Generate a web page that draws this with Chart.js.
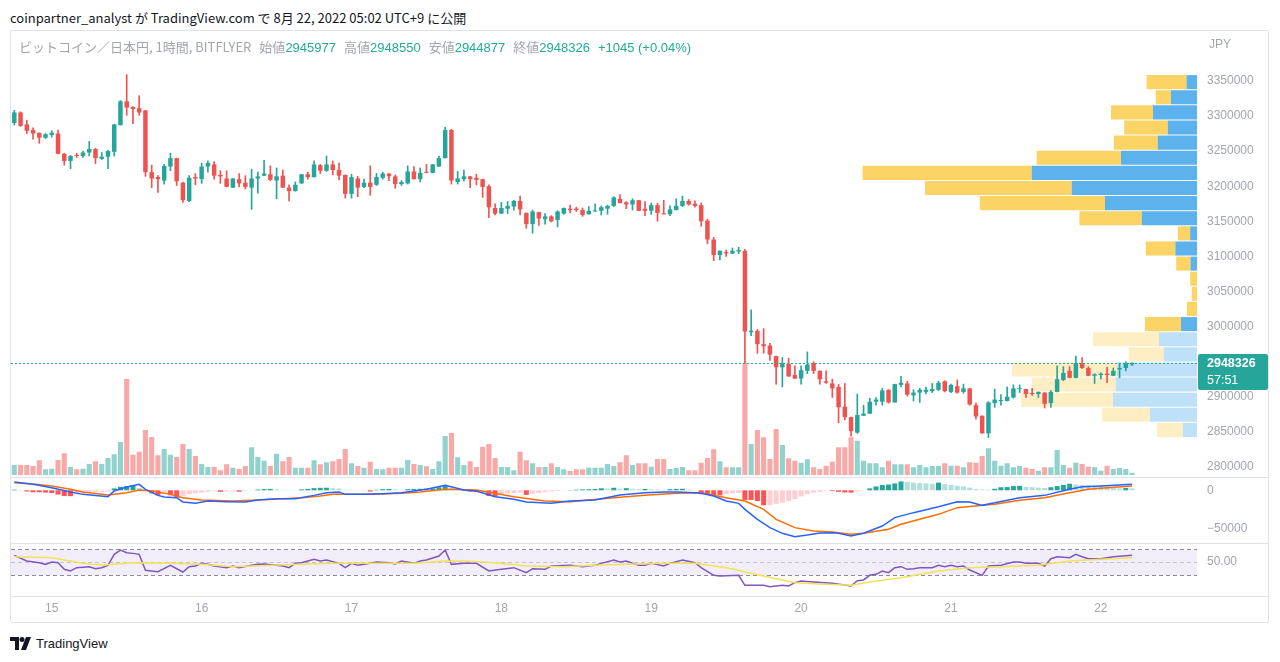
<!DOCTYPE html>
<html lang="ja">
<head>
<meta charset="utf-8">
<title>ビットコイン／日本円, 1時間, BITFLYER</title>
<script src="https://cdn.jsdelivr.net/npm/chart.js@4.4.1/dist/chart.umd.min.js"></script>
<style>
  body { margin: 0; width: 1280px; height: 662px; background: #fff; position: relative; overflow: hidden;
         font-family: "Liberation Sans", "Noto Sans CJK JP", sans-serif; }
  .abs { position: absolute; }
  #publisher { left: 10px; top: 8px; font-size: 13px; color: #131722; font-family: "Noto Sans CJK JP", sans-serif; white-space: nowrap; }
  #frame { left: 10px; top: 30px; width: 1257px; height: 591px; border: 1px solid #e0e3eb; border-radius: 2px; }
  #legend { left: 19px; top: 37px; font-size: 13px; color: #a3a6af; white-space: nowrap; font-family: "Noto Sans CJK JP", sans-serif; }
  #legend .v { color: #22ab94; font-family: "Liberation Sans", sans-serif; }
  #legend .g { margin-left: 8px; }
  #jpy { left: 1209px; top: 37px; font-size: 12px; color: #a3a6af; }
  .sep { left: 11px; width: 1257px; height: 1px; background: #e0e3eb; }
  canvas { position: absolute; }
  #brand { left: 10px; top: 636px; font-size: 13px; color: #131722; display: flex; align-items: center; gap: 4px; }
</style>
</head>
<body>
<div id="publisher" class="abs">coinpartner_analyst が TradingView.com で 8月 22, 2022 05:02 UTC+9 に公開</div>
<div id="frame" class="abs"></div>
<canvas id="profile" width="1258" height="447" style="left:11px;top:30px"></canvas>
<canvas id="main" width="1258" height="447" style="left:11px;top:30px"></canvas>
<div class="abs sep" style="top:477px"></div>
<canvas id="macd" width="1258" height="66" style="left:11px;top:477px"></canvas>
<div class="abs sep" style="top:543px"></div>
<canvas id="rsi" width="1258" height="78" style="left:11px;top:543px"></canvas>
<div class="abs sep" style="top:596px"></div>
<div id="legend" class="abs">ビットコイン／日本円, 1時間, BITFLYER<span class="g">始値</span><span class="v">2945977</span><span class="g">高値</span><span class="v">2948550</span><span class="g">安値</span><span class="v">2944877</span><span class="g">終値</span><span class="v">2948326</span><span class="v g">+1045 (+0.04%)</span></div>
<div id="jpy" class="abs">JPY</div>
<div id="brand" class="abs">
  <svg width="22" height="13" viewBox="0 0 22 13"><path d="M0 0h9v13H5V4H0z" fill="#131722"/><circle cx="12" cy="2.5" r="2.5" fill="#131722"/><path d="M16 0h5l-5 13h-5z" fill="#131722"/></svg>
  <span>TradingView</span>
</div>

<script>
// 1時間足 2022-08-14 18:00 〜 2022-08-22 05:00 (180本)
const opens = [
  3290000,3305000,3288000,3280000,3276000,3269000,3273000,3275000,3246000,3236000,
  3244000,3243000,3248000,3253000,3239000,3242000,3249000,3287000,3321000,3313000,
  3311000,3308000,3220000,3213000,3208000,3228000,3240000,3205000,3179000,3213000,
  3210000,3228000,3231000,3216000,3211000,3198000,3210000,3205000,3198000,3211000,
  3215000,3217000,3208000,3215000,3198000,3193000,3204000,3217000,3213000,3230000,
  3222000,3231000,3223000,3216000,3189000,3211000,3199000,3205000,3202000,3212000,
  3218000,3214000,3203000,3204000,3221000,3210000,3220000,3219000,3228000,3240000,
  3280000,3206000,3210000,3214000,3212000,3210000,3200000,3169000,3161000,3168000,
  3171000,3179000,3162000,3146000,3163000,3153000,3157000,3152000,3161000,3168000,
  3168000,3166000,3160000,3164000,3165000,3168000,3172000,3182000,3177000,3174000,
  3180000,3168000,3165000,3173000,3161000,3160000,3166000,3172000,3179000,3175000,
  3173000,3151000,3124000,3102000,3106000,3104000,3107000,3108000,2992000,2994000,
  2975000,2973000,2958000,2942000,2947000,2931000,2926000,2937000,2948000,2937000,
  2922000,2919000,2914000,2886000,2871000,2849000,2873000,2876000,2893000,2893000,
  2910000,2892000,2917000,2919000,2902000,2906000,2907000,2908000,2910000,2922000,
  2907000,2915000,2907000,2912000,2888000,2873000,2848000,2891000,2894000,2894000,
  2899000,2911000,2911000,2905000,2904000,2906000,2891000,2907000,2924000,2937000,
  2927000,2947000,2941000,2930000,2931000,2933000,2930000,2939000,2941000,2945977
];
const highs = [
  3308000,3306000,3294000,3283000,3276000,3275000,3279000,3280000,3247000,3244000,
  3247000,3250000,3264000,3254000,3248000,3251000,3288000,3322000,3359000,3313000,
  3329000,3308000,3230000,3215000,3231000,3247000,3240000,3206000,3215000,3218000,
  3233000,3236000,3235000,3222000,3222000,3211000,3218000,3215000,3224000,3220000,
  3237000,3229000,3226000,3223000,3202000,3206000,3217000,3220000,3236000,3231000,
  3243000,3236000,3233000,3216000,3217000,3214000,3210000,3229000,3218000,3220000,
  3218000,3216000,3208000,3229000,3228000,3226000,3231000,3231000,3243000,3284000,
  3281000,3221000,3223000,3214000,3217000,3210000,3202000,3175000,3177000,3178000,
  3180000,3186000,3162000,3166000,3163000,3161000,3158000,3165000,3169000,3173000,
  3170000,3169000,3171000,3175000,3172000,3173000,3185000,3188000,3178000,3182000,
  3180000,3178000,3176000,3176000,3180000,3172000,3182000,3186000,3181000,3179000,
  3176000,3153000,3127000,3108000,3109000,3112000,3113000,3110000,3024000,2996000,
  2997000,2976000,2958000,2956000,2955000,2944000,2944000,2964000,2950000,2937000,
  2937000,2925000,2918000,2919000,2871000,2904000,2888000,2898000,2899000,2912000,
  2910000,2918000,2929000,2922000,2910000,2912000,2914000,2919000,2922000,2923000,
  2918000,2924000,2918000,2912000,2891000,2873000,2893000,2911000,2903000,2914000,
  2917000,2917000,2911000,2912000,2907000,2906000,2909000,2944000,2943000,2943000,
  2958000,2956000,2943000,2933000,2934000,2942000,2941000,2948000,2950000,2948550
];
const lows = [
  3287000,3285000,3275000,3267000,3261000,3268000,3270000,3246000,3230000,3225000,
  3241000,3241000,3243000,3232000,3238000,3225000,3243000,3287000,3301000,3289000,
  3301000,3214000,3198000,3191000,3203000,3222000,3201000,3177000,3178000,3202000,
  3204000,3220000,3210000,3204000,3199000,3198000,3199000,3196000,3167000,3190000,
  3215000,3208000,3182000,3198000,3179000,3193000,3204000,3210000,3213000,3218000,
  3221000,3216000,3209000,3183000,3183000,3185000,3198000,3187000,3201000,3210000,
  3208000,3197000,3201000,3203000,3210000,3206000,3219000,3219000,3228000,3240000,
  3203000,3203000,3207000,3198000,3202000,3184000,3155000,3159000,3161000,3161000,
  3166000,3159000,3140000,3133000,3144000,3146000,3149000,3142000,3160000,3162000,
  3164000,3157000,3160000,3164000,3159000,3160000,3171000,3176000,3168000,3166000,
  3165000,3158000,3160000,3150000,3160000,3158000,3166000,3171000,3173000,3170000,
  3143000,3118000,3094000,3095000,3100000,3104000,3104000,2948000,2987000,2962000,
  2962000,2952000,2918000,2914000,2929000,2926000,2918000,2933000,2933000,2918000,
  2919000,2899000,2863000,2867000,2844000,2848000,2873000,2876000,2888000,2888000,
  2891000,2892000,2914000,2901000,2894000,2892000,2904000,2906000,2909000,2907000,
  2906000,2905000,2905000,2888000,2868000,2848000,2842000,2885000,2888000,2894000,
  2898000,2906000,2899000,2902000,2899000,2884000,2885000,2907000,2923000,2927000,
  2927000,2940000,2930000,2919000,2925000,2920000,2930000,2927000,2937000,2944877
];
const closes = [
  3305000,3286000,3279000,3275000,3269000,3274000,3276000,3246000,3236000,3243000,
  3243000,3248000,3253000,3240000,3242000,3250000,3288000,3321000,3312000,3310000,
  3305000,3220000,3211000,3210000,3229000,3240000,3207000,3180000,3212000,3211000,
  3228000,3233000,3215000,3214000,3199000,3211000,3204000,3199000,3211000,3214000,
  3218000,3209000,3214000,3198000,3193000,3202000,3217000,3213000,3231000,3222000,
  3231000,3223000,3215000,3189000,3213000,3198000,3205000,3199000,3213000,3218000,
  3214000,3203000,3206000,3221000,3210000,3219000,3219000,3231000,3240000,3280000,
  3208000,3211000,3214000,3210000,3209000,3199000,3170000,3161000,3169000,3172000,
  3179000,3167000,3146000,3164000,3154000,3157000,3150000,3164000,3169000,3166000,
  3166000,3159000,3165000,3165000,3170000,3172000,3184000,3176000,3174000,3180000,
  3165000,3165000,3173000,3162000,3160000,3167000,3172000,3179000,3174000,3172000,
  3150000,3124000,3102000,3108000,3104000,3108000,3109000,2993000,2994000,2975000,
  2972000,2960000,2942000,2948000,2929000,2926000,2938000,2946000,2937000,2925000,
  2920000,2912000,2885000,2871000,2851000,2874000,2876000,2893000,2896000,2909000,
  2892000,2918000,2920000,2903000,2906000,2910000,2910000,2911000,2920000,2908000,
  2917000,2906000,2912000,2889000,2872000,2848000,2892000,2896000,2895000,2900000,
  2912000,2912000,2904000,2904000,2907000,2890000,2907000,2925000,2934000,2927000,
  2948000,2941000,2930000,2932000,2933000,2931000,2937000,2941000,2947281,2948326
];
const volumes = [
  40,40,40,36,59,23,25,60,87,32,
  23,25,44,55,44,68,83,132,384,81,
  93,180,152,79,104,81,72,124,104,76,
  44,32,32,19,43,29,24,36,111,72,
  57,36,85,55,72,29,29,29,59,43,
  51,55,64,104,47,36,29,53,24,23,
  29,29,29,60,44,40,35,24,55,156,
  168,71,40,55,32,113,124,68,32,32,
  19,93,59,47,32,32,47,32,23,16,
  23,23,29,29,29,44,36,51,79,40,
  47,47,33,64,64,24,28,32,19,19,
  49,68,103,55,31,31,31,448,124,180,
  151,64,184,120,67,57,49,63,31,24,
  37,53,111,111,151,137,57,47,47,31,
  57,43,43,43,31,40,31,36,36,47,
  37,37,31,51,49,76,107,57,37,47,
  31,36,29,24,17,31,31,100,40,29,
  49,44,33,31,17,37,24,28,24,9
];

// 出来高プロファイル (24行)
const vpPrice = [
  3348229,3326687,3305145,3283603,3262061,3240519,3218977,3197435,3175893,3154351,3132809,3111267,
  3089725,3068183,3046641,3025099,3003557,2982015,2960473,2938931,2917389,2895847,2874305,2852763
];
const vpUp   = [26,65,110,73,98,190,413,313,230,138,17,54,16,0,0,0,40,95,83,200,203,210,118,35];
const vpDown = [100,38,105,109,110,211,423,367,313,156,31,74,36,17,13,25,90,165,88,263,210,230,119,65];

// MACD (12, 26, 9)
const macdHist = [
  800,500,-1500,-2500,-2500,-3000,-3500,-5500,-7500,-7600,
  -5000,-3500,-2500,-2000,-1900,-1500,2500,4500,5500,6500,
  3000,-700,-4000,-6500,-3000,-6500,-9500,-7500,-5000,-4000,
  -3000,-2000,-1000,-2000,-1500,-1400,-1800,-600,-300,1000,
  1600,1800,1200,500,400,300,1200,1800,2800,3200,
  3300,2800,2300,700,500,300,-200,-1500,600,1500,
  1800,1200,800,1500,1800,2000,2200,2500,4000,5500,
  3000,1000,-800,-1800,-2500,-2000,-7500,-8000,-5000,-4000,
  -3500,-3000,-6000,-4500,-3500,-2500,-1500,-800,-300,400,
  800,1200,1400,1600,2600,2200,3300,2000,2800,2000,
  1500,1700,1200,1000,800,1500,1800,2000,1000,300,
  -5000,-6000,-6500,-6600,-5200,-4000,-3500,-12500,-12600,-14000,
  -19500,-19300,-17500,-16000,-14000,-11500,-8000,-5000,-3000,-2000,
  -800,-1000,-2000,-2800,-3000,-1500,-500,2500,5000,7000,
  7500,9000,11500,11000,10000,9500,9000,8500,10000,8000,
  7000,6000,5000,3500,1500,1000,800,2000,4000,4200,
  5500,5800,4500,4000,3500,3000,4000,5500,7000,8500,
  7500,7000,6500,6000,5500,5000,4500,2500,3000,2500
];
const macdIdx = [0,3,6,9,11,15,16,18,20,21,23,24,26,27,29,31,34,37,39,42,45,48,50,52,53,56,59,62,64,66,69,72,74,77,80,82,86,89,93,97,101,104,106,109,110,112,114,116,117,119,121,123,125,127,129,131,132,134,136,139,141,144,148,151,153,155,157,161,165,169,171,174,179];
const macdVal = [10800,7800,3400,-2200,-5300,-8300,-900,4300,7800,1300,-6600,-8700,-9600,-15200,-17000,-14000,-14800,-15200,-12600,-10900,-10900,-6600,-3100,-2200,-5300,-5300,-4400,-3100,-900,1300,6500,400,-900,-8300,-11800,-15200,-17000,-13900,-12600,-6100,-3100,-2200,-2200,-3100,-3900,-7400,-13900,-17000,-24800,-37800,-48600,-56000,-60400,-58200,-55500,-55200,-56000,-59500,-56000,-46500,-35600,-29100,-21300,-14800,-15200,-19600,-16100,-9600,-6600,1300,4700,5600,7800];
const signalIdx = [0,3,6,9,11,15,18,20,22,25,27,30,35,39,43,46,49,51,54,57,62,65,69,74,80,85,89,96,101,106,110,114,117,120,122,125,128,131,134,136,140,142,145,148,151,155,157,161,165,169,172,175,179];
const signalVal = [9900,8200,5600,1300,-2200,-6100,-3100,400,-900,-5300,-9600,-12600,-13900,-12600,-10900,-9600,-7400,-5300,-5300,-5300,-3900,-2200,1300,400,-8300,-13900,-14800,-9600,-6600,-3900,-3100,-9600,-13900,-24800,-37800,-48600,-53000,-54300,-57300,-56000,-50800,-44300,-37800,-31300,-22600,-19600,-18300,-13100,-9600,-3100,1300,3400,5600];

// RSI (14) と RSI の移動平均
const rsiIdx = [0,2,4,5,6,7,8,9,10,12,13,14,15,16,17,18,19,20,21,23,25,27,28,29,30,31,32,34,35,36,38,39,40,42,43,44,45,46,48,49,50,52,53,54,55,57,58,60,61,62,64,65,66,68,69,70,72,74,76,78,80,82,83,85,86,89,91,93,94,96,97,98,100,101,102,104,105,107,109,110,112,113,116,117,120,121,123,124,125,126,128,131,134,135,136,137,138,139,140,141,142,143,144,145,147,148,149,150,151,152,153,155,156,158,160,161,162,164,165,166,167,169,170,171,172,174,176,179];
const rsiVal = [60,51.5,49,46.5,50,49,39,36.5,41.5,43,40,41.5,45,61.5,68,64,63,61.5,37.5,35.5,45,35,43,44,48,46.5,44,41.5,44,41.5,45,46.5,47,45,44,41.5,48,49,54,51.5,53,48,41.5,48,45,48,50,49,47,51.5,48,51.5,53,59,68,46.5,48,48,36.5,39,41.5,34,40,39,44,45,43,45,48,53,50,51.5,45,45,48,44,48,53,49,41.5,30,29,30,15,15,13,15,14,19,21.5,20,18,14,22,23,30,31.5,36.5,34,41.5,43,39,40,41.5,41.5,45,43,45,43,44,38,30,44,45,50,50,48,48,44,55,58,56.5,61.5,58,55,55,58,60];
const rsiMaIdx = [0,6,11,14,19,25,30,35,41,46,51,57,64,69,72,77,82,88,93,98,104,109,114,120,125,129,134,137,142,148,153,158,164,169,174,179];
const rsiMaVal = [58,56.5,48,45,49,48,46.5,43,45,46.5,48,48,48,51.5,51.5,49,44,43,45,46.5,48,48,41.5,29,19,17,15,20,26.5,36.5,41.5,43,45,51.5,54,56.5];

// 軸
const dayIdx = [6,30,54,78,102,126,150,174];
const dayLabels = ['15','16','17','18','19','20','21','22'];
const priceTicks = [2800000,2850000,2900000,3000000,3050000,3100000,3150000,3200000,3250000,3300000,3350000];
const macdTicks = [0,-50000];
const rsiTicks = [50];
const countdown = '57:51';

// 表示範囲
const X_MIN = -0.53, X_MAX = 189.4;
const Y_MIN = 2785755, Y_MAX = 3422507;
const VOL_MIN = -8, VOL_MAX = 1780;
const VP_MAX = 2965;
const VALUE_AREA_ROWS = 17;
const AXIS_W = 72;

const UP = '#26a69a', DOWN = '#ef5350';
const AXIS_TEXT = '#a3a6af';

Chart.defaults.font.family = '"Liberation Sans", "Noto Sans", sans-serif';
Chart.defaults.font.size = 12;
Chart.defaults.animation = false;
Chart.defaults.plugins.legend.display = false;
Chart.defaults.plugins.tooltip.enabled = false;

const idx = opens.map((_, i) => i);
const upBar = i => closes[i] >= opens[i];

function fitRight(axis) {
    axis.width = AXIS_W;
    axis.paddingTop = 0;
    axis.paddingBottom = 0;
}

function hiddenX() {
    return { type: 'linear', min: X_MIN, max: X_MAX, offset: false, display: false, grid: { display: false } };
}

function rightAxis(min, max, ticks, label) {
    return {
        position: 'right', min, max,
        grid: { display: false, drawTicks: false },
        border: { display: false },
        afterFit: fitRight,
        afterBuildTicks: axis => { axis.ticks = ticks.map(v => ({ value: v })); },
        ticks: { padding: 10, color: AXIS_TEXT, autoSkip: false, callback: label }
    };
}

function points(xs, ys) {
    return xs.map((x, k) => ({ x, y: ys[k] }));
}

// 出来高プロファイル
new Chart(document.getElementById('profile'), {
    type: 'bar',
    data: {
        datasets: [
            {
                data: points(vpUp, vpPrice),
                backgroundColor: vpPrice.map((_, k) => k < VALUE_AREA_ROWS ? 'rgba(21,146,230,0.7)' : 'rgba(21,146,230,0.28)'),
                barPercentage: 0.93, categoryPercentage: 1
            },
            {
                data: points(vpDown, vpPrice),
                backgroundColor: vpPrice.map((_, k) => k < VALUE_AREA_ROWS ? 'rgba(251,193,35,0.7)' : 'rgba(251,193,35,0.27)'),
                barPercentage: 0.93, categoryPercentage: 1
            }
        ]
    },
    options: {
        indexAxis: 'y',
        responsive: false,
        layout: { padding: { right: AXIS_W } },
        scales: {
            x: { type: 'linear', reverse: true, min: 0, max: VP_MAX, display: false, stacked: true },
            y: { type: 'linear', min: Y_MIN, max: Y_MAX, display: false, stacked: true, offset: false }
        }
    }
});

// 現在値ライン・ラベル
const lastPricePlugin = {
    id: 'lastPrice',
    afterDatasetsDraw(chart) {
        const { ctx, chartArea, scales } = chart;
        const last = closes[closes.length - 1];
        const y = Math.round(scales.y.getPixelForValue(last)) + 0.5;
        ctx.save();
        ctx.strokeStyle = UP;
        ctx.lineWidth = 1;
        ctx.setLineDash([2, 2]);
        ctx.beginPath();
        ctx.moveTo(chartArea.left, y);
        ctx.lineTo(chartArea.right, y);
        ctx.stroke();
        ctx.setLineDash([]);
        const x0 = chartArea.right + 1;
        ctx.fillStyle = UP;
        ctx.beginPath();
        ctx.roundRect(x0, y - 9.5, chart.width - x0 - 1, 36, 2);
        ctx.fill();
        ctx.fillStyle = '#fff';
        ctx.textBaseline = 'middle';
        ctx.font = 'bold 12.5px "Liberation Sans", sans-serif';
        ctx.fillText(String(last), x0 + 9, y + 0.5);
        ctx.font = '12.5px "Liberation Sans", sans-serif';
        ctx.fillText(countdown, x0 + 9, y + 17);
        ctx.restore();
    }
};

// ローソク足 + 出来高
new Chart(document.getElementById('main'), {
    type: 'bar',
    data: {
        datasets: [
            {
                data: idx.map(i => ({ x: i, y: [opens[i], closes[i]] })),
                backgroundColor: idx.map(i => upBar(i) ? UP : DOWN),
                barPercentage: 0.72, categoryPercentage: 1, minBarLength: 1,
                grouped: false, order: 1
            },
            {
                data: idx.map(i => ({ x: i, y: [lows[i], highs[i]] })),
                backgroundColor: idx.map(i => upBar(i) ? UP : DOWN),
                barThickness: 1, grouped: false, order: 2
            },
            {
                data: idx.map(i => ({ x: i, y: volumes[i] })),
                yAxisID: 'yv',
                backgroundColor: idx.map(i => upBar(i) ? 'rgba(38,166,154,0.5)' : 'rgba(239,83,80,0.5)'),
                barPercentage: 0.82, categoryPercentage: 1,
                grouped: false, order: 3
            }
        ]
    },
    options: {
        responsive: false,
        scales: {
            x: hiddenX(),
            y: rightAxis(Y_MIN, Y_MAX, priceTicks, v => String(v)),
            yv: { min: VOL_MIN, max: VOL_MAX, display: false }
        }
    },
    plugins: [lastPricePlugin]
});

// MACD
new Chart(document.getElementById('macd'), {
    type: 'bar',
    data: {
        datasets: [
            {
                type: 'line', data: points(signalIdx, signalVal),
                borderColor: '#ff6d00', borderWidth: 1.5, pointRadius: 0, tension: 0, order: 1
            },
            {
                type: 'line', data: points(macdIdx, macdVal),
                borderColor: '#2962ff', borderWidth: 1.5, pointRadius: 0, tension: 0, order: 0
            },
            {
                data: idx.map(i => ({ x: i, y: macdHist[i] })),
                backgroundColor: macdHist.map((v, i) => {
                    const prev = i > 0 ? macdHist[i - 1] : v - 1;
                    if (v >= 0) return v >= prev ? '#26a69a' : '#b2dfdb';
                    return v <= prev ? '#ff5252' : '#ffcdd2';
                }),
                barPercentage: 0.8, categoryPercentage: 1, order: 2
            }
        ]
    },
    options: {
        responsive: false,
        scales: {
            x: hiddenX(),
            y: rightAxis(-68620, 17320, macdTicks, v => v < 0 ? '\u2212' + Math.abs(v) : String(v))
        }
    }
});

// RSI 帯
const rsiBandPlugin = {
    id: 'rsiBand',
    beforeDatasetsDraw(chart) {
        const { ctx, chartArea, scales } = chart;
        const y70 = Math.round(scales.y.getPixelForValue(70)) + 0.5;
        const y50 = Math.round(scales.y.getPixelForValue(50)) + 0.5;
        const y30 = Math.round(scales.y.getPixelForValue(30)) + 0.5;
        ctx.save();
        ctx.fillStyle = 'rgba(126,87,194,0.1)';
        ctx.fillRect(chartArea.left, y70, chartArea.right - chartArea.left, y30 - y70);
        ctx.lineWidth = 1;
        ctx.setLineDash([4, 3]);
        [[y70, '#8a8d96'], [y50, 'rgba(138,141,150,0.45)'], [y30, '#8a8d96']].forEach(([y, c]) => {
            ctx.strokeStyle = c;
            ctx.beginPath();
            ctx.moveTo(chartArea.left, y);
            ctx.lineTo(chartArea.right, y);
            ctx.stroke();
        });
        ctx.restore();
    }
};

new Chart(document.getElementById('rsi'), {
    type: 'line',
    data: {
        datasets: [
            { data: points(rsiMaIdx, rsiMaVal), borderColor: '#f5e05a', borderWidth: 1.5, pointRadius: 0, tension: 0 },
            { data: points(rsiIdx, rsiVal), borderColor: '#7e57c2', borderWidth: 1.5, pointRadius: 0, tension: 0 }
        ]
    },
    options: {
        responsive: false,
        scales: {
            x: {
                type: 'linear', min: X_MIN, max: X_MAX, offset: false,
                grid: { display: false, drawTicks: false },
                border: { display: false },
                afterFit: axis => { axis.height = 25; axis.paddingLeft = 0; axis.paddingRight = 0; },
                afterBuildTicks: axis => { axis.ticks = dayIdx.map(v => ({ value: v })); },
                ticks: { padding: 5, color: AXIS_TEXT, autoSkip: false, maxRotation: 0,
                         callback: (v, k) => dayLabels[k] }
            },
            y: rightAxis(-1.1, 78.6, rsiTicks, v => v.toFixed(2))
        }
    },
    plugins: [rsiBandPlugin]
});
</script>
</body>
</html>
